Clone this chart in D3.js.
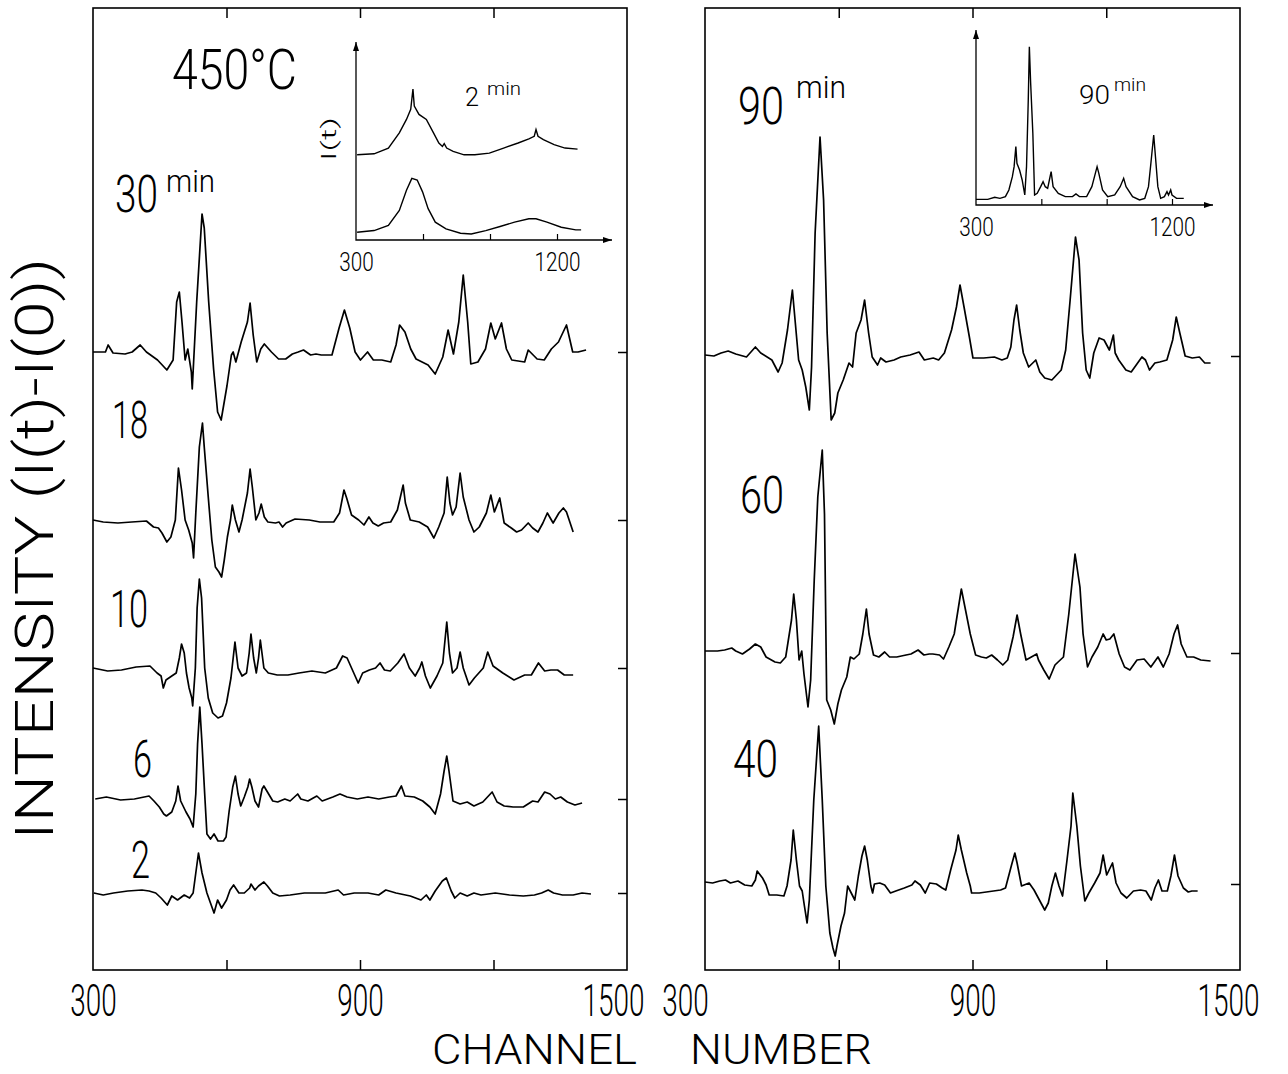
<!DOCTYPE html>
<html><head><meta charset="utf-8">
<script src="https://cdn.jsdelivr.net/npm/d3@7"></script>
<style>
body{margin:0;background:#fff}
text{font-family:Roboto,'Liberation Sans',sans-serif;font-weight:300;fill:#000}
</style>
</head><body>
<svg id="chart" width="1288" height="1074"></svg>
<script>
// ---------- data ----------
const channelLabels = [300, 900, 1500];
const frameTicks = [600, 900, 1200];
const insetLabels = [300, 1200];
const insetTicks = [600, 900, 1200];

const leftTimes = ["30", "18", "10", "6", "2"];
const leftOffsets = [618, 450, 302, 171, 77];
const rightTimes = ["90", "60", "40"];
const rightOffsets = [614, 317, 86];

const s30 = [[300,0],[328,0],[334,7],[345,-1],[372,-2],[388,0],[406,7],[420,0],[445,-8],[466,-18],[480,-8],[488,50],[494,60],[500,30],[507,-8],[513,3],[521,-20],[523,-37],[533,50],[545,138],[550,124],[560,50],[571,-17],[580,-60],[588,-68],[601,-34],[611,-3],[615,0],[621,-10],[633,10],[647,30],[653,49],[660,17],[668,-10],[677,3],[685,8],[701,0],[717,-7],[733,-7],[748,-2],[761,0],[773,2],[789,-3],[801,-2],[813,-3],[837,-3],[853,24],[865,42],[877,24],[889,0],[901,-8],[917,0],[930,-8],[949,-8],[969,-10],[981,7],[989,27],[1001,20],[1014,3],[1026,-7],[1053,-13],[1069,-22],[1086,-5],[1098,22],[1110,-2],[1122,30],[1132,77],[1142,30],[1149,-12],[1165,-10],[1182,3],[1194,29],[1204,13],[1218,29],[1229,3],[1241,-8],[1270,-10],[1278,2],[1298,-7],[1314,-8],[1330,3],[1346,10],[1364,27],[1378,0],[1390,0],[1408,2]];
const s18 = [[300,0],[323,-2],[356,-3],[387,-2],[420,-1],[436,-7],[447,-8],[455,-13],[466,-22],[475,-17],[485,0],[492,52],[499,30],[507,0],[515,-10],[523,-23],[526,-38],[531,7],[539,73],[546,97],[550,73],[559,23],[567,-20],[575,-47],[583,-52],[589,-57],[595,-40],[602,-17],[609,0],[613,15],[620,0],[628,-12],[635,0],[647,27],[653,51],[658,33],[666,0],[673,7],[678,16],[685,3],[693,-2],[710,-3],[718,-2],[726,-7],[734,-3],[754,1],[786,0],[810,-2],[841,-2],[854,7],[864,30],[870,22],[881,5],[897,0],[909,-5],[920,3],[929,-3],[941,-6],[953,-3],[969,-2],[984,10],[997,35],[1002,17],[1013,0],[1033,-2],[1052,-7],[1066,-18],[1077,-7],[1089,7],[1096,43],[1102,17],[1108,5],[1116,13],[1125,47],[1132,23],[1145,0],[1156,-12],[1168,-7],[1184,7],[1194,25],[1202,8],[1214,22],[1224,-3],[1240,-8],[1252,-12],[1263,-10],[1278,-3],[1288,-8],[1300,-12],[1311,-3],[1321,7],[1334,-3],[1347,7],[1357,12],[1364,8],[1379,-12]];
const s10 = [[300,0],[333,-3],[364,-2],[397,1],[428,2],[444,-5],[453,-8],[458,-20],[464,-12],[477,-8],[487,-5],[494,10],[499,24],[505,15],[510,-5],[516,-20],[522,-30],[524,-38],[530,0],[534,60],[539,89],[544,70],[551,0],[559,-30],[569,-45],[581,-50],[591,-48],[600,-35],[610,-10],[615,10],[619,26],[626,0],[635,-8],[645,-5],[651,15],[655,34],[661,10],[667,-5],[672,10],[676,28],[684,0],[694,-5],[714,-7],[738,-7],[763,-5],[792,-3],[822,-5],[847,0],[861,12],[871,10],[886,-5],[896,-15],[906,-5],[921,-2],[935,0],[945,5],[955,-2],[968,-3],[985,5],[999,14],[1011,0],[1024,-8],[1034,0],[1039,6],[1047,-8],[1058,-20],[1073,-8],[1086,5],[1095,46],[1101,15],[1108,-5],[1118,0],[1125,16],[1132,0],[1145,-17],[1157,-10],[1177,0],[1187,16],[1199,2],[1221,-5],[1246,-12],[1270,-7],[1285,-7],[1301,5],[1315,-3],[1329,-2],[1344,-2],[1359,-7],[1379,-7]];
const s6 = [[305,0],[330,2],[362,-1],[393,0],[426,3],[437,-2],[449,-8],[459,-15],[465,-17],[477,-13],[486,-2],[491,13],[497,-2],[509,-13],[518,-20],[525,-28],[531,5],[535,55],[540,92],[545,55],[551,5],[556,-35],[564,-40],[572,-35],[581,-42],[593,-42],[599,-38],[606,-12],[614,12],[620,23],[626,5],[632,-7],[640,2],[648,12],[652,20],[657,12],[664,-2],[672,-8],[680,10],[684,13],[692,7],[704,-2],[715,-3],[731,0],[743,-2],[760,5],[767,0],[783,-2],[803,3],[815,-2],[839,2],[855,5],[871,2],[894,0],[918,2],[942,0],[966,2],[981,3],[993,13],[1001,3],[1022,2],[1041,-2],[1057,-8],[1069,-15],[1081,5],[1089,28],[1095,43],[1100,28],[1109,-2],[1125,-5],[1141,-3],[1156,-7],[1176,-3],[1197,7],[1208,-3],[1224,-7],[1244,-8],[1267,-8],[1288,-2],[1300,-3],[1315,7],[1327,5],[1339,0],[1351,2],[1366,-3],[1383,-6],[1399,-4]];
const s2 = [[302,0],[323,-2],[346,0],[378,2],[410,3],[426,2],[441,0],[453,-5],[467,-12],[477,-3],[490,-7],[505,-2],[517,-5],[525,0],[531,20],[537,40],[545,20],[556,0],[564,-10],[572,-20],[580,-7],[589,-15],[600,-7],[608,3],[616,8],[628,0],[640,0],[652,5],[655,9],[664,3],[672,7],[684,11],[692,7],[704,0],[719,-3],[743,-2],[775,0],[822,0],[851,3],[863,-2],[887,0],[918,0],[942,-2],[958,3],[981,0],[1013,-3],[1037,-7],[1049,-2],[1057,-7],[1069,2],[1085,12],[1094,15],[1105,2],[1113,-5],[1125,0],[1141,-3],[1156,0],[1172,-2],[1204,0],[1236,-2],[1267,-3],[1292,-2],[1308,0],[1323,3],[1335,0],[1355,-2],[1379,-2],[1399,0],[1419,-1]];

const s90 = [[300,1],[320,0],[336,3],[352,5],[369,2],[393,-1],[413,9],[425,3],[450,-4],[464,-16],[473,-7],[485,26],[496,66],[502,36],[510,-4],[518,-14],[526,-31],[534,-54],[539,-11],[547,123],[558,219],[566,156],[574,23],[583,-64],[591,-57],[598,-37],[610,-24],[623,-7],[631,-11],[639,23],[650,36],[658,56],[667,23],[675,-1],[687,-9],[694,-2],[706,-6],[724,-4],[739,-1],[760,1],[780,4],[792,-4],[812,-2],[824,-4],[837,3],[853,26],[864,49],[872,71],[881,49],[893,19],[901,-2],[925,-2],[949,-1],[966,-4],[978,-2],[986,9],[993,36],[999,51],[1006,26],[1014,3],[1026,-11],[1042,-4],[1051,-16],[1062,-22],[1078,-24],[1099,-14],[1109,6],[1119,56],[1131,119],[1139,96],[1147,23],[1155,-14],[1163,-22],[1172,3],[1184,18],[1195,16],[1207,6],[1216,21],[1220,3],[1228,-4],[1244,-14],[1256,-16],[1272,-6],[1280,-1],[1288,-4],[1297,-14],[1309,-7],[1320,-6],[1336,-4],[1349,16],[1357,39],[1365,23],[1377,0],[1393,-2],[1409,-1],[1421,-7],[1434,-7]];
const s60 = [[300,2],[328,2],[344,3],[360,5],[369,2],[384,-1],[400,4],[413,9],[425,6],[437,-4],[457,-9],[469,-10],[481,-4],[494,33],[499,59],[505,33],[511,-7],[517,2],[522,-21],[531,-54],[537,-27],[545,73],[553,156],[563,203],[568,139],[573,-47],[582,-57],[590,-71],[598,-51],[606,-37],[618,-24],[626,-4],[634,-6],[646,-1],[654,19],[662,44],[668,19],[678,-2],[690,-4],[703,1],[714,-4],[730,-4],[751,-2],[762,-1],[778,3],[791,-2],[803,-1],[811,-1],[826,-2],[835,-6],[847,6],[859,19],[875,64],[883,46],[895,19],[907,-2],[920,-4],[931,-5],[943,-2],[956,-7],[968,-12],[979,-7],[991,16],[1000,38],[1008,19],[1020,-7],[1032,-4],[1044,-1],[1048,-7],[1060,-17],[1072,-26],[1085,-12],[1092,-9],[1104,-4],[1116,39],[1130,99],[1141,66],[1148,19],[1158,-14],[1168,-4],[1181,6],[1193,19],[1200,13],[1208,14],[1217,19],[1229,-1],[1241,-14],[1253,-17],[1269,-7],[1285,-6],[1300,-14],[1316,-4],[1328,-14],[1341,-1],[1352,19],[1360,28],[1368,9],[1381,-4],[1396,-4],[1412,-7],[1434,-8]];
const s40 = [[300,2],[317,1],[333,3],[346,4],[357,1],[374,3],[389,-1],[405,-2],[413,4],[417,13],[429,6],[437,-1],[444,-11],[461,-11],[477,-12],[484,-2],[493,24],[498,54],[505,24],[512,-2],[518,-7],[523,-22],[529,-39],[534,-16],[544,84],[555,158],[563,84],[571,-2],[580,-49],[587,-64],[592,-72],[596,-62],[605,-42],[613,-29],[620,-2],[628,-9],[636,-16],[644,8],[652,28],[658,38],[664,24],[672,-2],[676,-9],[680,0],[692,1],[703,-1],[716,-9],[728,-7],[747,-4],[764,-1],[771,3],[783,-1],[794,-9],[804,1],[819,0],[832,-4],[840,-6],[851,14],[863,34],[868,49],[875,34],[887,11],[895,-2],[898,-9],[915,-9],[931,-8],[947,-7],[963,-6],[974,-4],[987,18],[995,31],[1000,21],[1010,-2],[1027,1],[1038,-6],[1050,-16],[1062,-26],[1070,-19],[1078,-2],[1086,11],[1094,-2],[1102,-12],[1112,24],[1121,58],[1125,91],[1134,58],[1142,18],[1152,-17],[1161,-9],[1174,1],[1186,11],[1193,29],[1201,9],[1214,21],[1222,1],[1233,-9],[1246,-14],[1261,-7],[1277,-6],[1289,-7],[1301,-16],[1309,-4],[1317,4],[1325,-7],[1337,-7],[1345,8],[1353,29],[1361,8],[1373,-4],[1384,-8],[1392,-7],[1405,-7]];

const inset2Top = [[305,253],[381,256],[445,273],[494,318],[526,358],[545,388],[555,448],[561,398],[582,373],[615,358],[647,318],[671,288],[687,278],[695,286],[706,273],[735,263],[784,253],[832,253],[897,258],[961,273],[1026,288],[1074,300],[1098,308],[1106,328],[1115,308],[1139,298],[1187,283],[1236,273],[1292,270]];
const inset2Bottom = [[305,23],[381,28],[445,43],[494,88],[526,148],[550,183],[574,178],[598,143],[623,93],[655,53],[703,33],[768,20],[816,18],[881,28],[945,40],[1010,53],[1074,63],[1106,63],[1155,53],[1219,38],[1284,30],[1308,30]];
const inset90 = [[300,17],[354,17],[386,23],[410,20],[435,25],[451,45],[467,85],[475,115],[483,175],[488,125],[500,105],[512,75],[524,30],[532,115],[540,315],[545,475],[551,365],[561,215],[569,30],[581,35],[597,55],[608,70],[618,55],[629,50],[637,75],[645,100],[654,55],[678,35],[710,25],[743,25],[759,33],[775,25],[808,25],[832,55],[848,95],[856,115],[864,95],[881,45],[905,25],[937,30],[962,55],[978,80],[989,55],[1019,25],[1051,15],[1075,20],[1092,55],[1103,125],[1116,210],[1124,145],[1135,55],[1148,20],[1165,25],[1177,40],[1184,30],[1194,45],[1200,30],[1221,20],[1254,20]];

// ---------- drawing ----------
const svg = d3.select("#chart");
svg.append("rect").attr("width",1288).attr("height",1074).attr("fill","#fff");

const TOP = 8, BOTTOM = 970;
const yMain = d3.scaleLinear().domain([0, 962]).range([BOTTOM, TOP]);

// text squeezed horizontally to a given width (condensed plotter lettering)
function sText(g, str, x, y, size, width, anchor, rotate, family) {
  const t = g.append("text").attr("x", 0).attr("y", 0)
    .attr("font-size", size).attr("text-anchor", anchor || "start").text(str);
  if (family) t.attr("font-family", family).attr("font-weight", 400);
  const nat = t.node().getComputedTextLength();
  const sx = width / nat;
  t.attr("transform", `translate(${x},${y})` + (rotate ? ` rotate(${rotate})` : "") + ` scale(${sx},1)`);
  return t;
}

function styleTickLabels(sel, size, width, yPos, shifts, family) {
  sel.selectAll("text").each(function (d, i) {
    const t = d3.select(this)
      .attr("font-size", size).attr("font-family", family || "Roboto,sans-serif")
      .attr("font-weight", family ? 400 : 300).attr("fill", "#000").attr("y", 0).attr("dy", null);
    const nat = this.getComputedTextLength();
    const w = String(d).length * width;
    t.attr("transform", `translate(${shifts ? shifts[i] : 0},${yPos}) scale(${w / nat},1)`);
  });
}

function panel(x0, x1, series, offsets, labelShift) {
  const x = d3.scaleLinear().domain([300, 1500]).range([x0, x1]);
  const g = svg.append("g");
  g.append("rect").attr("x", x0).attr("y", TOP).attr("width", x1 - x0).attr("height", BOTTOM - TOP)
    .attr("fill", "none").attr("stroke", "#000").attr("stroke-width", 1.6);
  const bt = g.append("g").attr("transform", `translate(0,${BOTTOM})`)
    .call(d3.axisTop(x).tickValues(frameTicks).tickSize(10).tickFormat(""));
  const tt = g.append("g").attr("transform", `translate(0,${TOP})`)
    .call(d3.axisBottom(x).tickValues(frameTicks).tickSize(10).tickFormat(""));
  const rt = g.append("g").attr("transform", `translate(${x1},0)`)
    .call(d3.axisLeft(yMain).tickValues(offsets).tickSize(9).tickFormat(""));
  [bt, tt, rt].forEach(a => { a.select(".domain").remove(); a.selectAll("line").attr("stroke-width", 1.5); });
  const lab = g.append("g").attr("transform", `translate(0,${BOTTOM})`)
    .call(d3.axisBottom(x).tickValues(channelLabels).tickSize(0).tickPadding(0).tickFormat(d3.format("d")));
  lab.select(".domain").remove();
  styleTickLabels(lab, 44, 15.5, 46, labelShift, "'Liberation Sans',sans-serif");
  const line = (off) => d3.line().x(d => x(d[0])).y(d => yMain(d[1] + off));
  series.forEach((s, i) => {
    g.append("path").datum(s).attr("d", line(offsets[i]))
      .attr("fill", "none").attr("stroke", "#000").attr("stroke-width", 1.7)
      .attr("stroke-linejoin", "round");
  });
  return g;
}

panel(93, 627, [s30, s18, s10, s6, s2], leftOffsets, [0, 0, -14]);
panel(705, 1240, [s90, s60, s40], rightOffsets, [-20, 0, -12]);

function inset(xr, yBase, yTop, xEnd, yMax, traces) {
  const x = d3.scaleLinear().domain([300, 1200]).range(xr);
  const y = d3.scaleLinear().domain([0, yMax]).range([yBase, yTop]);
  const g = svg.append("g");
  g.append("path").attr("d", d3.line()([[xr[0], yTop], [xr[0], yBase], [xEnd, yBase]]))
    .attr("fill", "none").attr("stroke", "#000").attr("stroke-width", 1.3);
  g.append("path").attr("d", `M${xr[0]-3},${yTop+9}L${xr[0]},${yTop}L${xr[0]+3},${yTop+9}Z`).attr("fill", "#000");
  g.append("path").attr("d", `M${xEnd-9},${yBase-3}L${xEnd},${yBase}L${xEnd-9},${yBase+3}Z`).attr("fill", "#000");
  const ax = g.append("g").attr("transform", `translate(0,${yBase})`)
    .call(d3.axisTop(x).tickValues(insetTicks).tickSize(6).tickFormat(""));
  ax.select(".domain").remove();
  ax.selectAll("line").attr("stroke-width", 1.2);
  const lab = g.append("g").attr("transform", `translate(0,${yBase})`)
    .call(d3.axisBottom(x).tickValues(insetLabels).tickSize(0).tickPadding(0).tickFormat(d3.format("d")));
  lab.select(".domain").remove();
  styleTickLabels(lab, 26, 11.5, 31, null);
  traces.forEach(t => {
    g.append("path").datum(t).attr("d", d3.line().x(d => x(d[0])).y(d => y(d[1])))
      .attr("fill", "none").attr("stroke", "#000").attr("stroke-width", 1.4);
  });
  return g;
}

inset([356, 557], 240, 42, 612, 588, [inset2Top, inset2Bottom]);
inset([976, 1172], 205, 30, 1213, 525, [inset90]);

// inset labels
sText(svg, "I(t)", 336, 139, 20, 44, "middle", -90);
sText(svg, "2", 465, 106, 26, 14);
sText(svg, "min", 487, 95, 18, 34);
sText(svg, "90", 1079, 104, 26, 31);
sText(svg, "min", 1114, 91, 18, 32);

// panel labels
sText(svg, "450°C", 172, 89, 56, 125);
sText(svg, "30", 115, 212, 52, 43);
sText(svg, "min", 166, 192, 32, 49);
sText(svg, "18", 112, 438, 52, 36);
sText(svg, "10", 110, 627, 52, 38);
sText(svg, "6", 133, 777, 52, 19);
sText(svg, "2", 131, 878, 52, 19);
sText(svg, "90", 738, 124, 52, 46);
sText(svg, "min", 796, 98, 32, 50);
sText(svg, "60", 740, 513, 52, 44);
sText(svg, "40", 733, 777, 52, 45);

// axis titles
sText(svg, "CHANNEL", 432, 1064, 43, 205, "start", 0, "'Liberation Sans',sans-serif");
sText(svg, "NUMBER", 690, 1064, 43, 182, "start", 0, "'Liberation Sans',sans-serif");
sText(svg, "INTENSITY (I(t)-I(0))", 53, 549, 54, 582, "middle", -90);
</script>
</body></html>
